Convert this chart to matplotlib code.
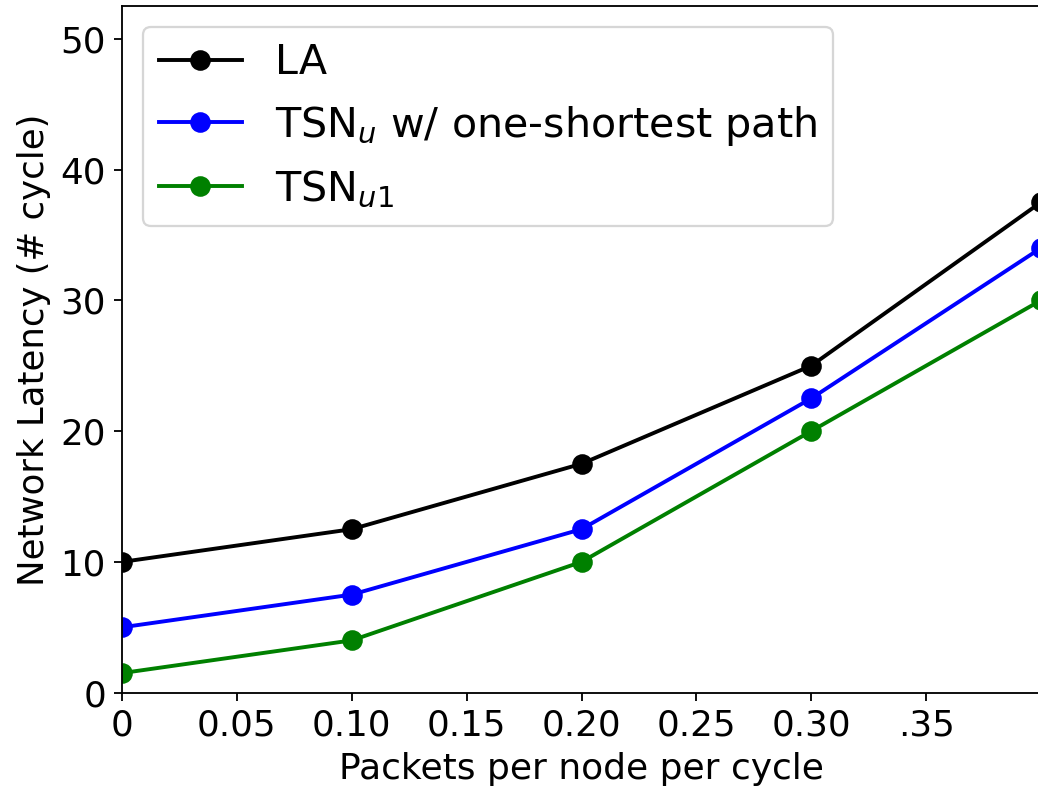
import matplotlib
matplotlib.use('Agg')
import matplotlib.pyplot as plt

# packets per node per cycle
load = [0.0, 0.1, 0.2, 0.3, 0.4]

latency_la = [10, 12.5, 17.5, 25, 37.5]
latency_tsn_u = [5, 7.5, 12.5, 22.5, 34]
latency_tsn_u1 = [1.5, 4, 10, 20, 30]

xticks = [0, 0.05, 0.10, 0.15, 0.20, 0.25, 0.30, 0.35]
xticklabels = ['0', '0.05', '0.10', '0.15', '0.20', '0.25', '0.30', '.35']
yticks = [0, 10, 20, 30, 40, 50]


def main():
    dpi = 165
    fig = plt.figure(figsize=(1038 / dpi, 794 / dpi), dpi=dpi)
    # axes runs slightly past the right edge of the picture, like the original crop
    ax = fig.add_axes([122 / 1038, (794 - 692.7) / 794, 919 / 1038, 686.7 / 794])

    ax.plot(load, latency_la, color='black', marker='o', lw=1.7, markersize=8, label='LA')
    ax.plot(load, latency_tsn_u, color='blue', marker='o', lw=1.7, markersize=8,
            label=r'TSN$_u$ w/ one-shortest path')
    ax.plot(load, latency_tsn_u1, color='green', marker='o', lw=1.7, markersize=8,
            label=r'TSN$_{u1}$')

    ax.set_xlim(0, 0.4)
    ax.set_ylim(0, 52.5)
    ax.set_xticks(xticks)
    ax.set_xticklabels(xticklabels)
    ax.set_yticks(yticks)
    ax.tick_params(axis='both', labelsize=15.6)

    ax.set_xlabel('Packets per node per cycle', fontsize=15.7)
    ax.set_ylabel('Network Latency (# cycle)', fontsize=15.5)

    ax.legend(loc='upper left', fontsize=18)

    fig.savefig('out.png', dpi=dpi)


if __name__ == '__main__':
    main()
